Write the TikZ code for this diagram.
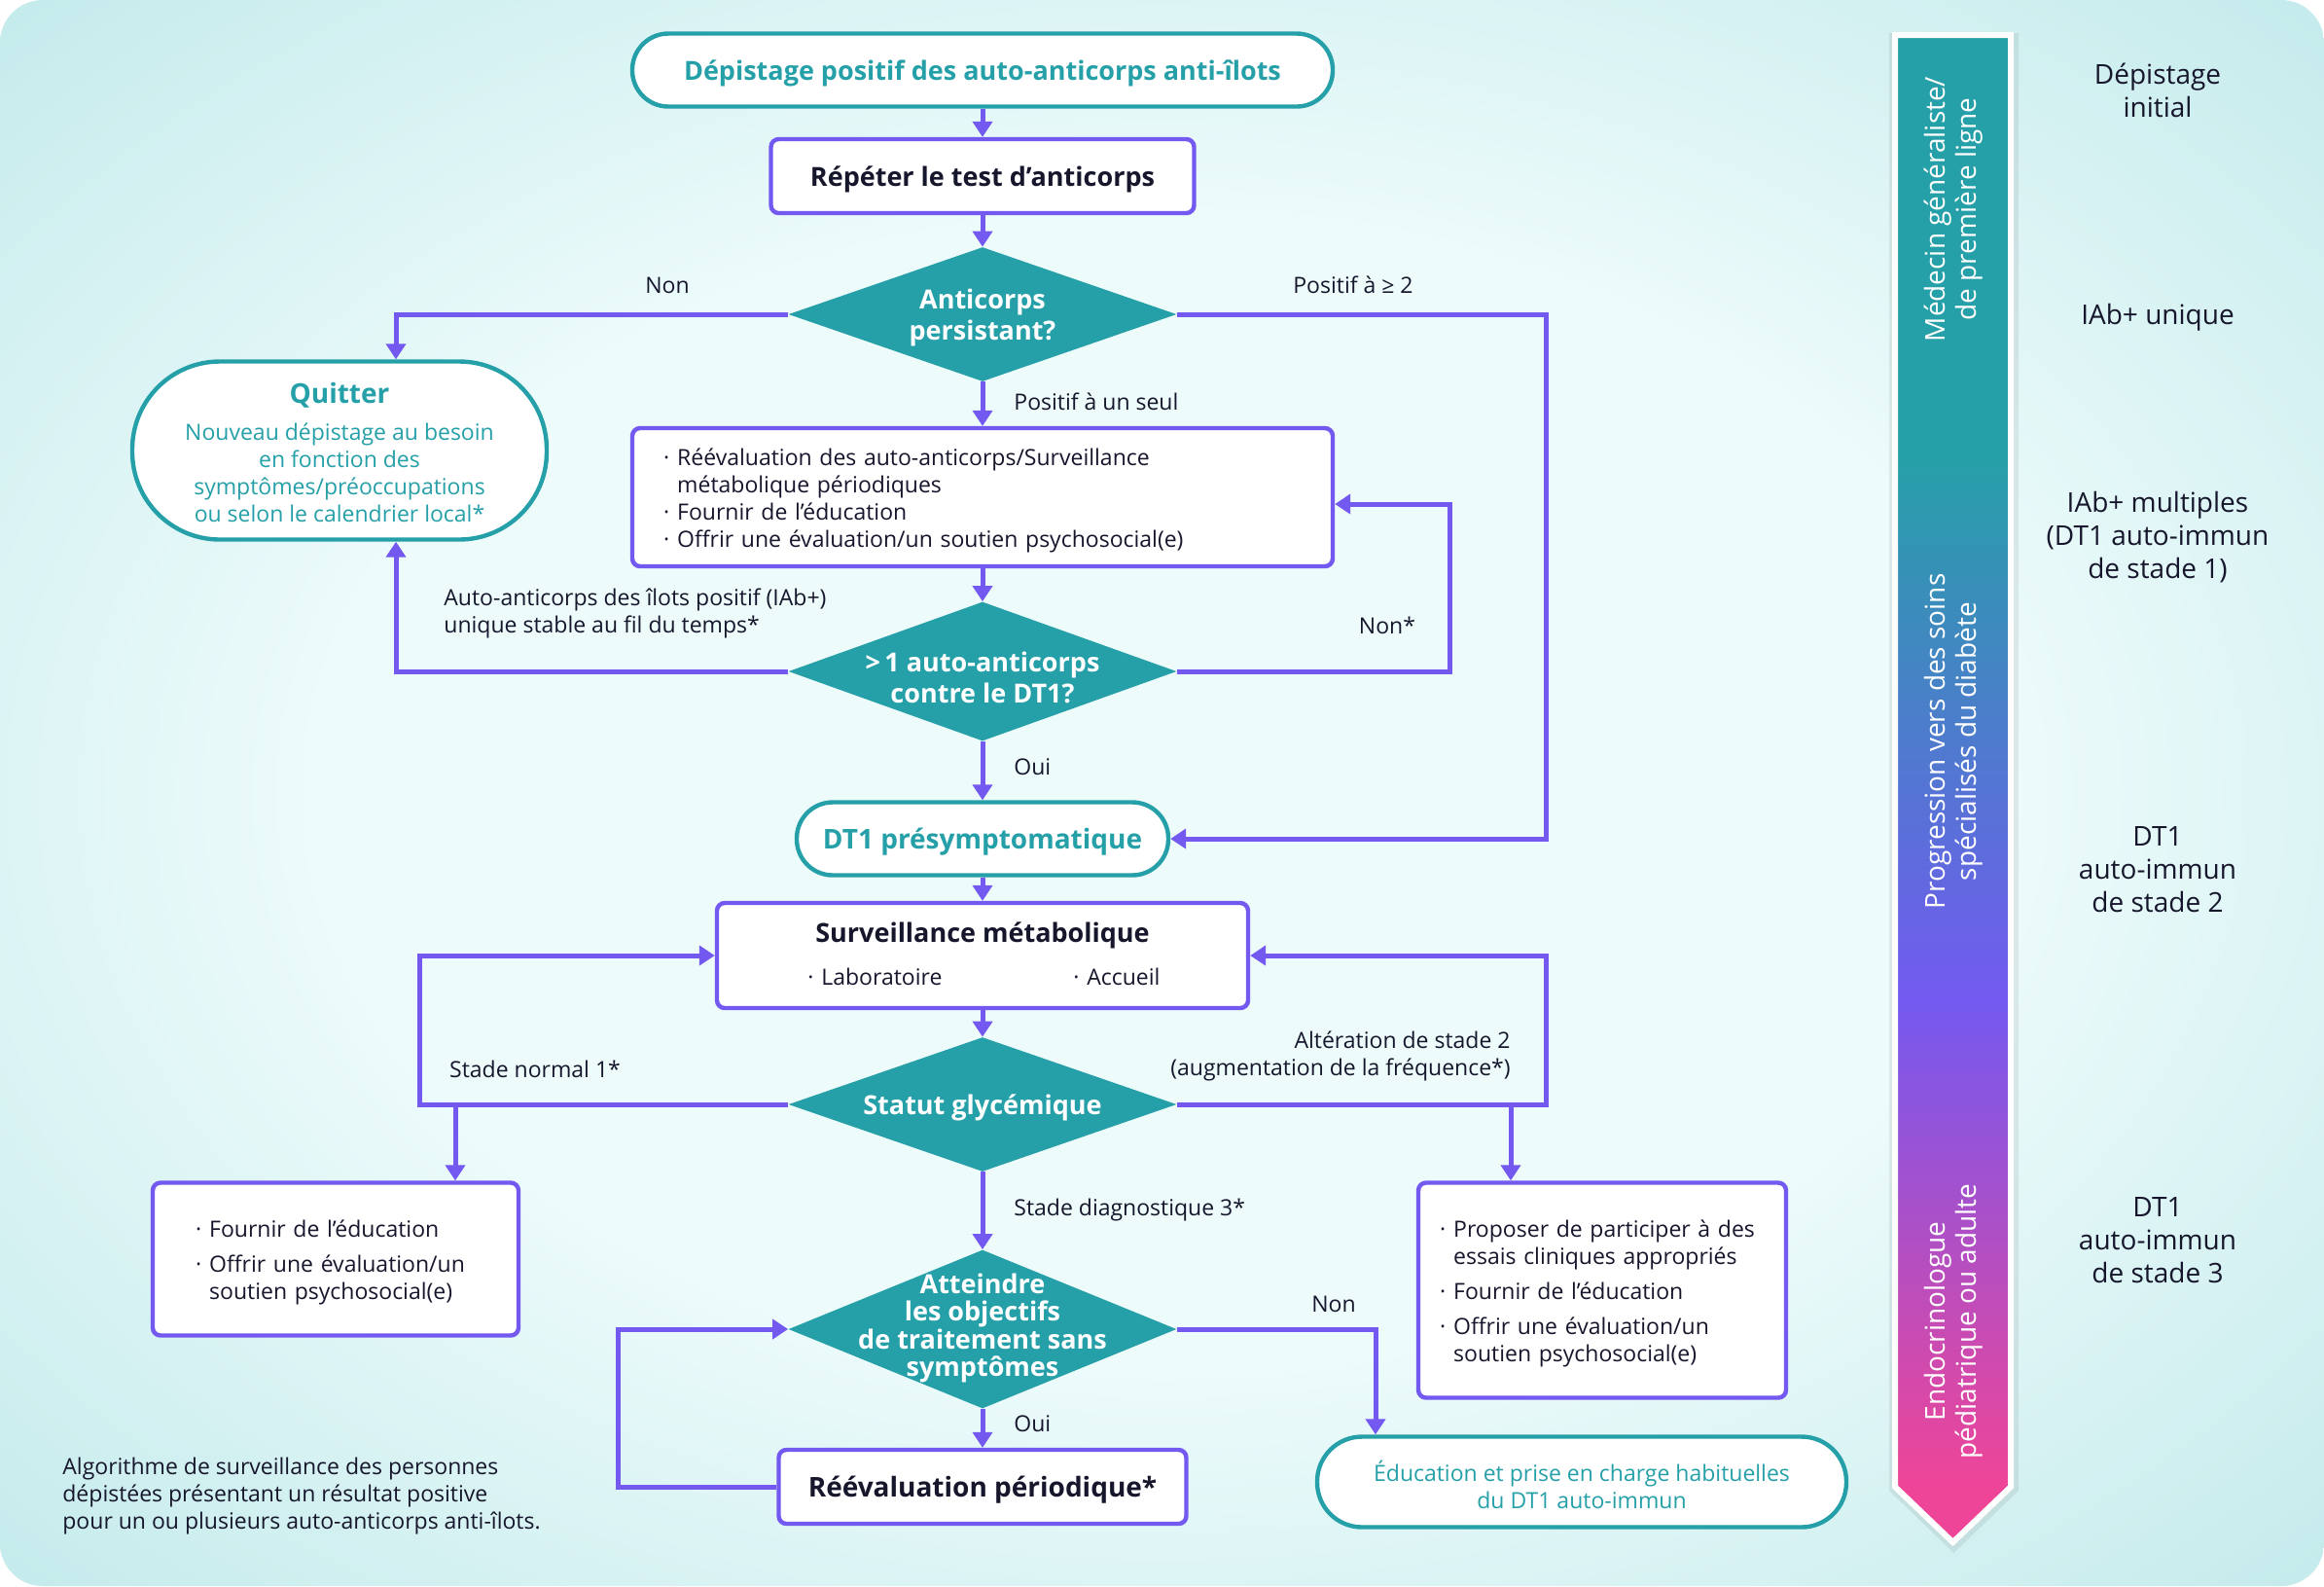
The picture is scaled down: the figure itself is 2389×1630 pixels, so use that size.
\documentclass[tikz,border=0pt]{standalone}
\usepackage{fontspec}
\setmainfont{Open Sans}
\usetikzlibrary{arrows.meta,shapes.geometric,calc}
\definecolor{teal1}{HTML}{26A0A8}
\definecolor{purp}{HTML}{7359F0}
\definecolor{pinkc}{HTML}{EE4598}
\definecolor{ink}{HTML}{16162C}
\definecolor{bglight}{HTML}{EDFBFB}
\definecolor{bgcyan}{HTML}{C3EAEB}
\pgfdeclareradialshading{bgshade}{\pgfpoint{0bp}{0bp}}{color(0bp)=(bglight); color(18bp)=(bglight); color(36bp)=(bgcyan); color(50bp)=(bgcyan)}
\pgfdeclareverticalshading{barshade}{100bp}{color(0bp)=(pinkc); color(27bp)=(pinkc); color(43bp)=(purp); color(61bp)=(teal1); color(100bp)=(teal1)}
\newcommand\bul{\makebox[7pt][l]{·}}
\newcommand\ind{\hspace*{7pt}}
\def\dy{-1.5pt}
\tikzset{
 arr/.style={draw=purp, line width=2.5pt, -{Triangle[length=8pt,width=10pt]}},
 stad/.style={draw=teal1, line width=2.2pt, fill=white, inner sep=0pt},
 pbox/.style={draw=purp, line width=2.2pt, fill=white, rounded corners=4pt, inner sep=0pt},
 dia/.style={diamond, fill=teal1, inner sep=0pt, draw=none},
 ttxt/.style={text=teal1, font=\bfseries\fontsize{13.5}{16}\selectfont, align=center, inner sep=0pt},
 btxt/.style={text=ink, font=\bfseries\fontsize{13.5}{16}\selectfont, align=center, inner sep=0pt},
 body/.style={text=ink, font=\fontsize{11.5}{14}\selectfont, align=left, inner sep=0pt},
 diatxt/.style={text=white, font=\bfseries\fontsize{13.5}{16}\selectfont, align=center, inner sep=0pt},
 lbl/.style={text=ink, font=\fontsize{11.5}{14}\selectfont, inner sep=0pt, yshift=-1pt},
 rlbl/.style={text=ink, font=\fontsize{14}{17}\selectfont, align=center, inner sep=0pt},
 bartxt/.style={text=white, font=\fontsize{14}{16}\selectfont, align=center, rotate=90, inner sep=0pt},
}
\begin{document}
\begin{tikzpicture}[x=0.5pt, y=-0.5pt]
\useasboundingbox (0,0) rectangle (2389,1630);
% background
\fill[white] (0,0) rectangle (2389,1630);
\shade[shading=bgshade, rounded corners=22pt] (0,0) rectangle (2389,1630);

% sidebar
\fill[black, opacity=0.07] (1942,34) -- (2075,34) -- (2075,1532) -- (2008.5,1596) -- (1942,1532) -- cycle;
\shadedraw[shading=barshade, draw=white, line width=3pt] (1948,36) -- (2067,36) -- (2067,1528) -- (2007.5,1585) -- (1948,1528) -- cycle;
\node[bartxt] (b1) at (2008,215) {Médecin généraliste/\\de première ligne};
\node[bartxt] (b2) at (2008,762) {Progression vers des soins\\spécialisés du diabète};
\node[bartxt] (b3) at (2008,1358) {Endocrinologue\\pédiatrique ou adulte};

% right labels
\node[rlbl] (r1) at (2218,93) {Dépistage\\initial};
\node[rlbl] (r2) at (2218,326) {IAb+ unique};
\node[rlbl] (r3) at (2218,552) {IAb+ multiples\\(DT1 auto-immun\\de stade 1)};
\node[rlbl] (r4) at (2218,894) {DT1\\auto-immun\\de stade 2};
\node[rlbl] (r5) at (2218,1275) {DT1\\auto-immun\\de stade 3};

% shapes
\node[stad, minimum width=360pt, minimum height=37.5pt, rounded corners=18.5pt] (n1) at (1010,72) {};
\node[pbox, minimum width=217.5pt, minimum height=38pt] (n2) at (1010,181) {};
\node[dia, minimum width=199.5pt, minimum height=69pt] (d1) at (1010,323) {};
\node[stad, minimum width=213pt, minimum height=91.5pt, rounded corners=45pt] (quit) at (349,463) {};
\node[pbox, minimum width=360pt, minimum height=71pt] (n5) at (1010,511) {};
\node[dia, minimum width=199.5pt, minimum height=71.5pt] (d2) at (1010,690) {};
\node[stad, minimum width=191pt, minimum height=37.5pt, rounded corners=18.5pt] (dt1) at (1010,862) {};
\node[pbox, minimum width=273pt, minimum height=54pt] (surv) at (1010,982) {};
\node[dia, minimum width=199.5pt, minimum height=69pt] (d3) at (1010,1135) {};
\node[pbox, minimum width=188pt, minimum height=78.5pt] (lbox) at (345,1294) {};
\node[pbox, minimum width=189pt, minimum height=110.5pt] (rbox) at (1647,1326) {};
\node[dia, minimum width=199.5pt, minimum height=81.5pt] (d4) at (1010,1366) {};
\node[pbox, minimum width=209.5pt, minimum height=38pt] (reev) at (1010,1528) {};
\node[stad, minimum width=272pt, minimum height=46.5pt, rounded corners=23pt] (edu) at (1626,1523) {};

% texts
\node[ttxt] (n1t) at ([yshift=\dy]n1.center) {Dépistage positif des auto-anticorps anti-îlots};
\node[btxt] (n2t) at ([yshift=\dy]n2.center) {Répéter le test d’anticorps};
\node[diatxt] (d1t) at ([yshift=\dy]d1.center) {Anticorps\\persistant?};
\node[ttxt, font=\fontsize{11.5}{14}\selectfont] (quitt) at ([yshift=-1pt]quit.center) {{\bfseries\fontsize{14}{17}\selectfont Quitter}\\[5pt]Nouveau dépistage au besoin\\en fonction des\\symptômes/préoccupations\\ou selon le calendrier local*};
\node[body, text width=326pt, anchor=west] (n5t) at ([xshift=17pt, yshift=\dy]n5.west) {\bul Réévaluation des auto-anticorps/Surveillance\\\ind métabolique périodiques\\\bul Fournir de l’éducation\\\bul Offrir une évaluation/un soutien psychosocial(e)};
\node[diatxt] (d2t) at ([yshift=-3pt]d2.center) {>\,1 auto-anticorps\\contre le DT1?};
\node[ttxt, font=\bfseries\fontsize{14}{17}\selectfont] (dt1t) at ([yshift=\dy]dt1.center) {DT1 présymptomatique};
\node[btxt] (survt) at (1010,961) {Surveillance métabolique};
\node[lbl, anchor=west] (surv1) at (830,1002) {\bul Laboratoire};
\node[lbl, anchor=west] (surv2) at (1103,1002) {\bul Accueil};
\node[diatxt] (d3t) at ([yshift=\dy]d3.center) {Statut glycémique};
\node[body, text width=142pt, anchor=west] (lboxt) at ([xshift=23pt, yshift=\dy]lbox.west) {\bul Fournir de l’éducation\\[4pt]\bul Offrir une évaluation/un\\\ind soutien psychosocial(e)};
\node[body, text width=165pt, anchor=west] (rboxt) at ([xshift=12pt, yshift=\dy]rbox.west) {\bul Proposer de participer à des\\\ind essais cliniques appropriés\\[4pt]\bul Fournir de l’éducation\\[4pt]\bul Offrir une évaluation/un\\\ind soutien psychosocial(e)};
\node[diatxt, font=\bfseries\fontsize{13.5}{14.3}\selectfont] (d4t) at ([yshift=0.5pt]d4.center) {Atteindre\\les objectifs\\de traitement sans\\symptômes};
\node[btxt, font=\bfseries\fontsize{14}{17}\selectfont] (reevt) at ([yshift=\dy]reev.center) {Réévaluation périodique*};
\node[ttxt, font=\fontsize{11.5}{14}\selectfont] (edut) at ([yshift=\dy]edu.center) {Éducation et prise en charge habituelles\\du DT1 auto-immun};
\node[lbl, anchor=west, align=left] (cap) at (64,1535) {Algorithme de surveillance des personnes\\dépistées présentant un résultat positive\\pour un ou plusieurs auto-anticorps anti-îlots.};

% connectors
\coordinate (cR) at (1589,0);
\coordinate (cM) at (1490,0);
\coordinate (cL) at (431,0);
\coordinate (cLL) at (635,0);
\coordinate (cE) at (1414,0);
\coordinate (n5r) at ([yshift=-3.5pt]n5.east);
\coordinate (bL) at (468,1135);
\coordinate (bR) at (1553,1135);

\draw[arr] (n1.south) -- (n2.north);
\draw[arr] (n2.south) -- (d1.north);
\draw[arr] (d1.west) -| ([xshift=29pt]quit.north);
\node[lbl] (l1) at (686,291) {Non};
\draw[arr] (d1.east) -| (cR |- dt1.east) -- (dt1.east);
\node[lbl] (l2) at (1391,291) {Positif à ≥ 2};
\draw[arr] (d1.south) -- (n5.north);
\node[lbl, anchor=west] (l3) at (1042,411) {Positif à un seul};
\draw[arr] (n5.south) -- (d2.north);
\draw[arr] (d2.west) -| ([xshift=29pt]quit.south);
\node[lbl, anchor=west, align=left] (l4) at (456,628) {Auto-anticorps des îlots positif (IAb+)\\unique stable au fil du temps*};
\draw[arr] (d2.east) -| (cM |- n5r) -- (n5r);
\node[lbl] (l5) at (1426,641) {Non*};
\draw[arr] (d2.south) -- (dt1.north);
\node[lbl, anchor=west] (l6) at (1042,786) {Oui};
\draw[arr] (dt1.south) -- (surv.north);
\draw[arr] (surv.south) -- (d3.north);
\draw[arr] (d3.west) -| (cL |- surv.west) -- (surv.west);
\draw[arr] (bL) -- (bL |- lbox.north);
\node[lbl] (l7) at (550,1097) {Stade normal 1*};
\draw[arr] (d3.east) -| (cR |- surv.east) -- (surv.east);
\draw[arr] (bR) -- (bR |- rbox.north);
\node[lbl, anchor=east, align=right] (l8) at (1553,1083) {Altération de stade 2\\(augmentation de la fréquence*)};
\draw[arr] (d3.south) -- (d4.north);
\node[lbl, anchor=west] (l9) at (1042,1242) {Stade diagnostique 3*};
\draw[arr] (d4.south) -- (reev.north);
\node[lbl, anchor=west] (l10) at (1042,1461) {Oui};
\draw[arr] (reev.west) -| (cLL |- d4.west) -- (d4.west);
\draw[arr] (d4.east) -| (cE |- edu.north);
\node[lbl] (l11) at (1371,1338) {Non};
\end{tikzpicture}
\end{document}
